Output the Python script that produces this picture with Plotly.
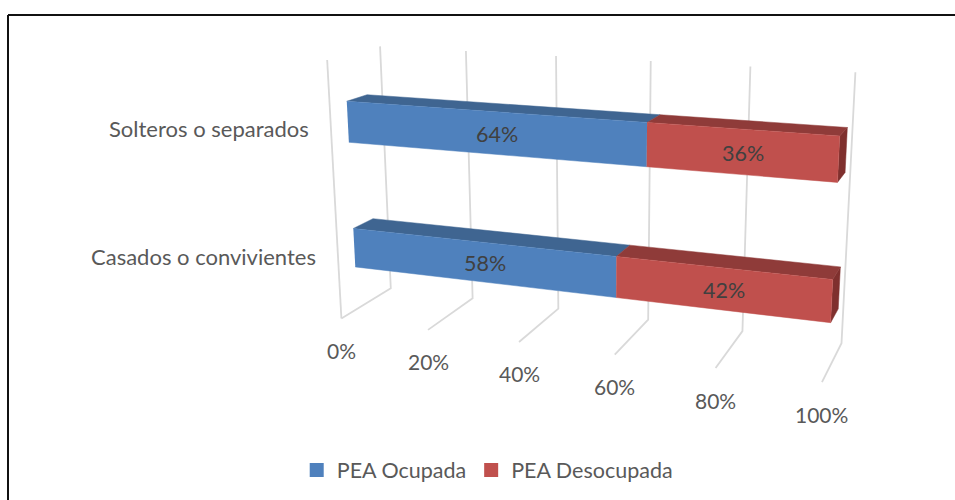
import numpy as np
import plotly.graph_objects as go

# ---- data ----
categories = ["Casados o convivientes", "Solteros o separados"]
pea_ocupada = [58, 64]
pea_desocupada = [42, 36]
tick_values = [0, 20, 40, 60, 80, 100]
tick_labels = ["0%", "20%", "40%", "60%", "80%", "100%"]
series_names = ["PEA Ocupada", "PEA Desocupada"]

# ---- 3D view: perspective matrix of the box (x = share, y = depth, z = height) ----
VIEW = np.array([[381.480282, 77.282019, -31.211983, 341.398333],
                 [17.630346, -9.655091, -261.485831, 318.402409],
                 [-0.120551, 0.071409, -0.051916, 1.0]])
DEPTH = (0.31, 0.70)
HEIGHT = {0: (0.172, 0.328), 1: (0.669, 0.827)}
CATEGORY_OFFSET = {0: (-36, 9), 1: (-37, 7)}

BLUE, BLUE_TOP = "#4F81BD", "#3F6591"
RED, RED_TOP, RED_SIDE = "#C0504D", "#8F3B39", "#7F302E"
GRID = "#D9D9D9"
FONT = "Lato"
AXIS_TEXT = "#595959"
LABEL_TEXT = "#404040"


def proj(v, y, z):
    h = VIEW @ np.array([v / 100.0, y, z, 1.0])
    return float(h[0] / h[2]), float(h[1] / h[2])


fig = go.Figure()


def line(points):
    pts = [proj(*p) for p in points]
    fig.add_trace(go.Scatter(x=[p[0] for p in pts], y=[p[1] for p in pts], mode="lines",
                             line=dict(color=GRID, width=1.8), showlegend=False, hoverinfo="skip"))


def face(points, color):
    pts = [proj(*p) for p in points]
    fig.add_trace(go.Scatter(x=[p[0] for p in pts], y=[p[1] for p in pts], mode="lines",
                             fill="toself", fillcolor=color, line=dict(color=color, width=0.5),
                             showlegend=False, hoverinfo="skip"))


# grid: side wall edge, back wall and floor lines
line([(0, 0, 1), (0, 0, 0)])
for t in tick_values:
    line([(t, 1, 1), (t, 1, 0), (t, 0, 0)])

# bars, rear one first
y0, y1 = DEPTH
for i in (1, 0):
    z0, z1 = HEIGHT[i]
    a = pea_ocupada[i]
    b = a + pea_desocupada[i]
    face([(b, y0, z0), (b, y1, z0), (b, y1, z1), (b, y0, z1)], RED_SIDE)
    face([(0, y0, z1), (0, y1, z1), (a, y1, z1), (a, y0, z1)], BLUE_TOP)
    face([(a, y0, z1), (a, y1, z1), (b, y1, z1), (b, y0, z1)], RED_TOP)
    face([(0, y0, z0), (a, y0, z0), (a, y0, z1), (0, y0, z1)], BLUE)
    face([(a, y0, z0), (b, y0, z0), (b, y0, z1), (a, y0, z1)], RED)

annotations = []


def text(x, y, s, size, color, anchor="center"):
    annotations.append(dict(x=x, y=y, xref="x", yref="y", text=s, showarrow=False, xanchor=anchor,
                            yanchor="middle", font=dict(family=FONT, size=size, color=color)))


# data labels, centred on the front faces
for i in range(len(categories)):
    z0, z1 = HEIGHT[i]
    a = pea_ocupada[i]
    b = a + pea_desocupada[i]
    for lo, hi, val in ((0, a, a), (a, b, pea_desocupada[i])):
        c = np.mean([proj(lo, y0, z0), proj(hi, y0, z0), proj(lo, y0, z1), proj(hi, y0, z1)], axis=0)
        text(float(c[0]), float(c[1]) + 1, f"{val}%", 21.5, LABEL_TEXT)

# value axis labels under the floor lines
for t, s in zip(tick_values, tick_labels):
    fx, fy = proj(t, 0, 0)
    text(fx, fy + 32, s, 21, AXIS_TEXT)

# category labels, right-aligned against the floor
for i, c in enumerate(categories):
    z0, z1 = HEIGHT[i]
    fx, fy = proj(0, y0, (z0 + z1) / 2)
    dx, dy = CATEGORY_OFFSET[i]
    text(fx + dx, fy + dy, c, 22, AXIS_TEXT, "right")

# legend entries
for name, col in zip(series_names, (BLUE, RED)):
    fig.add_trace(go.Scatter(x=[None], y=[None], mode="markers", name=name,
                             marker=dict(symbol="square", size=14, color=col)))

fig.update_layout(
    width=955, height=500, margin=dict(l=0, r=0, t=0, b=0),
    paper_bgcolor="white", plot_bgcolor="white",
    xaxis=dict(range=[0, 955], visible=False, fixedrange=True),
    yaxis=dict(range=[500, 0], visible=False, fixedrange=True),
    annotations=annotations,
    legend=dict(orientation="h", x=0.3107, y=0.06, xanchor="left", yanchor="middle",
                font=dict(family=FONT, size=21.5, color=AXIS_TEXT), itemsizing="trace",
                itemwidth=30, bgcolor="rgba(0,0,0,0)"),
    shapes=[
        dict(type="line", xref="x", yref="y", x0=8, x1=8, y0=15, y1=500, line=dict(color="#111111", width=2)),
        dict(type="line", xref="x", yref="y", x0=8, x1=955, y0=15, y1=15, line=dict(color="#111111", width=2)),
    ],
)
fig.write_html("out.html", config={"displayModeBar": False},
               post_script="document.body.style.margin='0';document.documentElement.style.overflow='hidden';")
